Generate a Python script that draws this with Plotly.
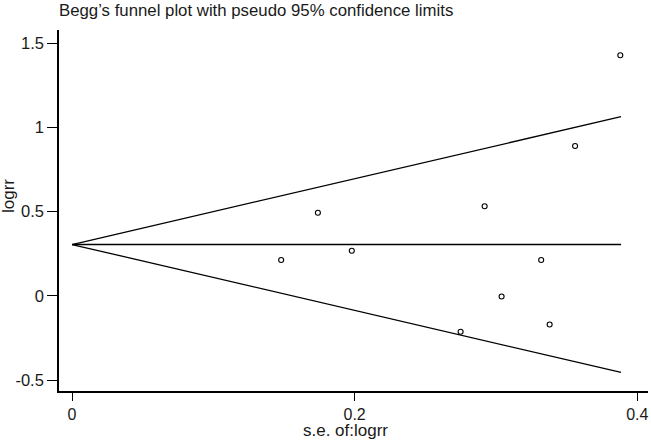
import plotly.graph_objects as go

# Study points (standard error, log relative risk)
se_values = [0.148, 0.174, 0.198, 0.275, 0.292, 0.304, 0.332, 0.338, 0.356, 0.388]
logrr_values = [0.213, 0.494, 0.268, -0.213, 0.532, -0.004, 0.213, -0.170, 0.890, 1.429]

# Funnel (pseudo 95% confidence limits) endpoints
funnel_se = [0.0, 0.3885]
funnel_center = [0.305, 0.305]
funnel_upper = [0.305, 1.064]
funnel_lower = [0.305, -0.455]

x_ticks = [0, 0.2, 0.4]
x_tick_labels = ["0", "0.2", "0.4"]
y_ticks = [-0.5, 0, 0.5, 1, 1.5]
y_tick_labels = ["-0.5", "0", "0.5", "1", "1.5"]

FONT = "Liberation Sans, Arial, sans-serif"
line_style = dict(color="black", width=1.3)

fig = go.Figure()
fig.add_trace(go.Scatter(x=funnel_se, y=funnel_upper, mode="lines", line=line_style, hoverinfo="skip"))
fig.add_trace(go.Scatter(x=funnel_se, y=funnel_center, mode="lines", line=line_style, hoverinfo="skip"))
fig.add_trace(go.Scatter(x=funnel_se, y=funnel_lower, mode="lines", line=line_style, hoverinfo="skip"))
fig.add_trace(go.Scatter(
    x=se_values, y=logrr_values, mode="markers",
    marker=dict(symbol="circle-open", size=5, color="black", line=dict(width=1.1, color="black")),
))

fig.update_layout(
    width=651, height=442,
    margin=dict(l=59, r=3, t=30, b=51, autoexpand=False),
    paper_bgcolor="white", plot_bgcolor="white",
    showlegend=False,
    font=dict(family=FONT, size=16, color="#1a1a1a"),
    xaxis=dict(
        range=[-0.0092, 0.4076], tickvals=x_ticks, ticktext=x_tick_labels,
        ticks="outside", ticklen=8, tickwidth=1, tickcolor="black",
        showline=True, linecolor="black", linewidth=1.6, automargin=False,
        showgrid=False, zeroline=False, tickfont=dict(size=16),
    ),
    yaxis=dict(
        range=[-0.565, 1.579], tickvals=y_ticks, ticktext=y_tick_labels,
        ticks="outside", ticklen=10, tickwidth=1, tickcolor="black",
        showline=True, linecolor="black", linewidth=1.6, automargin=False,
        showgrid=False, zeroline=False, tickfont=dict(size=16.5),
    ),
    annotations=[
        dict(text="Begg\u2019s funnel plot with pseudo 95% confidence limits",
             xref="paper", yref="paper", x=0, y=1, xanchor="left", yanchor="middle",
             yshift=20, xshift=-2, showarrow=False, font=dict(size=16.8, family=FONT)),
        dict(text="s.e. of:logrr", xref="paper", yref="paper", x=0.487, y=0,
             xanchor="center", yanchor="middle", yshift=-39, showarrow=False,
             font=dict(size=17, family=FONT)),
        dict(text="logrr", xref="paper", yref="paper", x=0, y=0.54,
             xanchor="center", yanchor="middle", xshift=-51, textangle=-90,
             showarrow=False, font=dict(size=17, family=FONT)),
    ],
)

fig.write_html(
    "out.html",
    config={"displayModeBar": False},
    post_script="document.body.style.margin='0';document.body.style.overflow='hidden';",
)
